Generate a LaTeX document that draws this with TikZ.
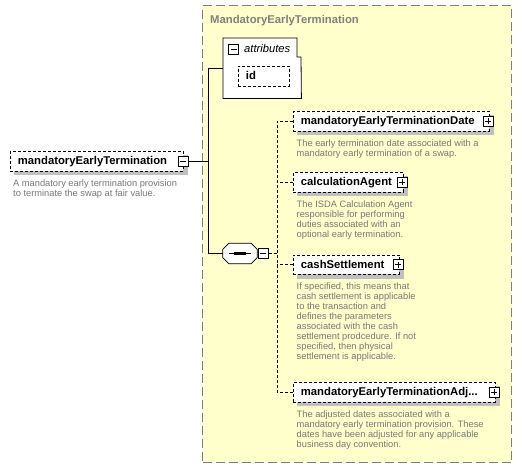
\documentclass[tikz,border=0pt]{standalone}
\usepackage{fontspec}
\setmainfont{Liberation Sans}
\definecolor{yellowbg}{RGB}{255,255,204}
\definecolor{bordergray}{RGB}{128,128,128}
\definecolor{titlegray}{RGB}{128,128,128}
\definecolor{descgray}{RGB}{120,120,120}
\definecolor{shadowgray}{RGB}{192,192,192}
\pgfdeclarelayer{back}
\pgfdeclarelayer{shade}
\pgfsetlayers{back,shade,main}
\newcommand\dropshade[1]{\begin{pgfonlayer}{shade}\fill[shadowgray]
  ([shift={(4pt,-4pt)}]#1.north west) rectangle ([shift={(4pt,-4pt)}]#1.south east);\end{pgfonlayer}}
\begin{document}
\begin{tikzpicture}[x=1pt,y=-1pt,
  elem/.style={draw, dash pattern=on 3pt off 2pt, line width=0.8pt, fill=white,
    anchor=north west, minimum height=19.5pt, inner xsep=7.5pt, inner ysep=0pt,
    align=left, text height=8.5pt, text depth=1.5pt,
    font=\bfseries\fontsize{11.3}{12}\selectfont},
  desc/.style={anchor=north west, inner sep=0pt, align=left, text=descgray,
    font=\fontsize{9.3}{10}\selectfont},
  pm/.style={draw, solid, line width=1pt, fill=white, minimum size=10pt, inner sep=0pt},
  minus/.style={pm, path picture={\draw[line width=0.9pt]
    ([xshift=2pt]path picture bounding box.west) -- ([xshift=-2pt]path picture bounding box.east);}},
  plus/.style={pm, path picture={\draw[line width=0.9pt]
    ([xshift=2pt]path picture bounding box.west) -- ([xshift=-2pt]path picture bounding box.east)
    ([yshift=2pt]path picture bounding box.south) -- ([yshift=-2pt]path picture bounding box.north);}},
  conn/.style={draw, line width=0.8pt},
  opt/.style={draw, line width=0.8pt, dash pattern=on 3pt off 2pt},
]
\useasboundingbox (0,0) rectangle (522,469);

% group box
\begin{pgfonlayer}{back}
\fill[white] (0,0) rectangle (522,469);
\node[draw=bordergray, line width=1.2pt, dash pattern=on 9pt off 4pt, fill=yellowbg,
  anchor=north west, minimum width=309pt, minimum height=457pt, inner sep=0pt] (grp) at (202,5) {};
\end{pgfonlayer}
\node[anchor=base west, inner sep=0pt, text=titlegray, font=\bfseries\fontsize{11.3}{12}\selectfont]
  (title) at (210,23) {MandatoryEarlyTermination};

% attributes
\node[anchor=north west, minimum width=78pt, minimum height=60pt, inner sep=0pt] (attrs) at (223,38) {};
\draw[fill=white, line width=0.8pt] (attrs.north west) -- (297,38) -- (297,57) -- (301,57)
  -- (attrs.south east) -- (attrs.south west) -- cycle;
\node[minus] (attrm) at (233.5,49.5) {};
\node[anchor=base west, inner sep=0pt, font=\itshape\fontsize{11.2}{12}\selectfont] (attrl) at (244,52) {attributes};
\node[elem, text width=36pt, minimum height=20pt] (id) at (238,66) {id};
\dropshade{id}

% main element
\node[elem, text width=158pt] (main) at (10,151) {mandatoryEarlyTermination};
\dropshade{main}
\node[minus] (mainm) at ([xshift=-0.5pt]main.east) {};
\node[desc] (maind) at (13,180) {A mandatory early termination provision\\to terminate the swap at fair value.};

% sequence
\node[minimum width=34pt, minimum height=20pt, inner sep=0pt] (seq) at (240,253.5) {};
\begin{pgfonlayer}{shade}
\fill[shadowgray, shift={(4pt,-4pt)}]
  ([xshift=6pt]seq.north west) -- ([xshift=-6pt]seq.north east) -- ([yshift=-6pt]seq.north east)
  -- ([yshift=6pt]seq.south east) -- ([xshift=-6pt]seq.south east) -- ([xshift=6pt]seq.south west)
  -- ([yshift=6pt]seq.south west) -- ([yshift=-6pt]seq.north west) -- cycle;
\end{pgfonlayer}
\path[draw, line width=0.8pt, fill=white]
  ([xshift=6pt]seq.north west) -- ([xshift=-6pt]seq.north east) -- ([yshift=-6pt]seq.north east)
  -- ([yshift=6pt]seq.south east) -- ([xshift=-6pt]seq.south east) -- ([xshift=6pt]seq.south west)
  -- ([yshift=6pt]seq.south west) -- ([yshift=-6pt]seq.north west) -- cycle;
\draw[line width=0.8pt] ([xshift=-11pt]seq.center) -- ([xshift=11pt]seq.center);
\foreach \dx in {-4,0,4} \fill ([xshift=\dx pt]seq.center) +(-1.6,-1.6) rectangle +(1.6,1.6);
\node[minus] (seqm) at (263,253.5) {};

% children
\node[elem, text width=181pt] (date) at (293,111) {mandatoryEarlyTerminationDate};
\dropshade{date}
\node[plus] (datep) at ([xshift=-1.5pt]date.east) {};
\node[desc] (dated) at (296.5,139.5) {The early termination date associated with a\\mandatory early termination of a swap.};

\node[elem, text width=95pt] (calc) at (293,172) {calculationAgent};
\dropshade{calc}
\node[plus] (calcp) at ([xshift=-1.5pt]calc.east) {};
\node[desc] (calcd) at (296.5,200.5) {The ISDA Calculation Agent\\responsible for performing\\duties associated with an\\optional early termination.};

\node[elem, text width=91pt] (cash) at (293,254.5) {cashSettlement};
\dropshade{cash}
\node[plus] (cashp) at ([xshift=-1.5pt]cash.east) {};
\node[desc] (cashd) at (296.5,283) {If specified, this means that\\cash settlement is applicable\\to the transaction and\\defines the parameters\\associated with the cash\\settlement prodcedure. If not\\specified, then physical\\settlement is applicable.};

\node[elem, text width=187pt] (adj) at (293,382) {mandatoryEarlyTerminationAdj...};
\dropshade{adj}
\node[plus] (adjp) at ([xshift=-1.5pt]adj.east) {};
\node[desc] (adjd) at (296.5,410.5) {The adjusted dates associated with a\\mandatory early termination provision. These\\dates have been adjusted for any applicable\\business day convention.};

% connectors
\coordinate (jt) at (208,68);
\coordinate (jb) at (208,253.5);
\coordinate (sj) at (277,253.5);
\draw[conn] (mainm.east) -- (mainm.east -| jt);
\draw[conn] (attrs.west |- jt) -- (jt) -- (jb) -- (seq.west);
\draw[opt] (seqm.east) -- (sj);
\draw[opt] (date.west) -| (sj |- adj.west) -- (adj.west);
\draw[opt] (calc.west) -- (calc.west -| sj);
\draw[opt] (cash.west) -- (cash.west -| sj);
\end{tikzpicture}
\end{document}
